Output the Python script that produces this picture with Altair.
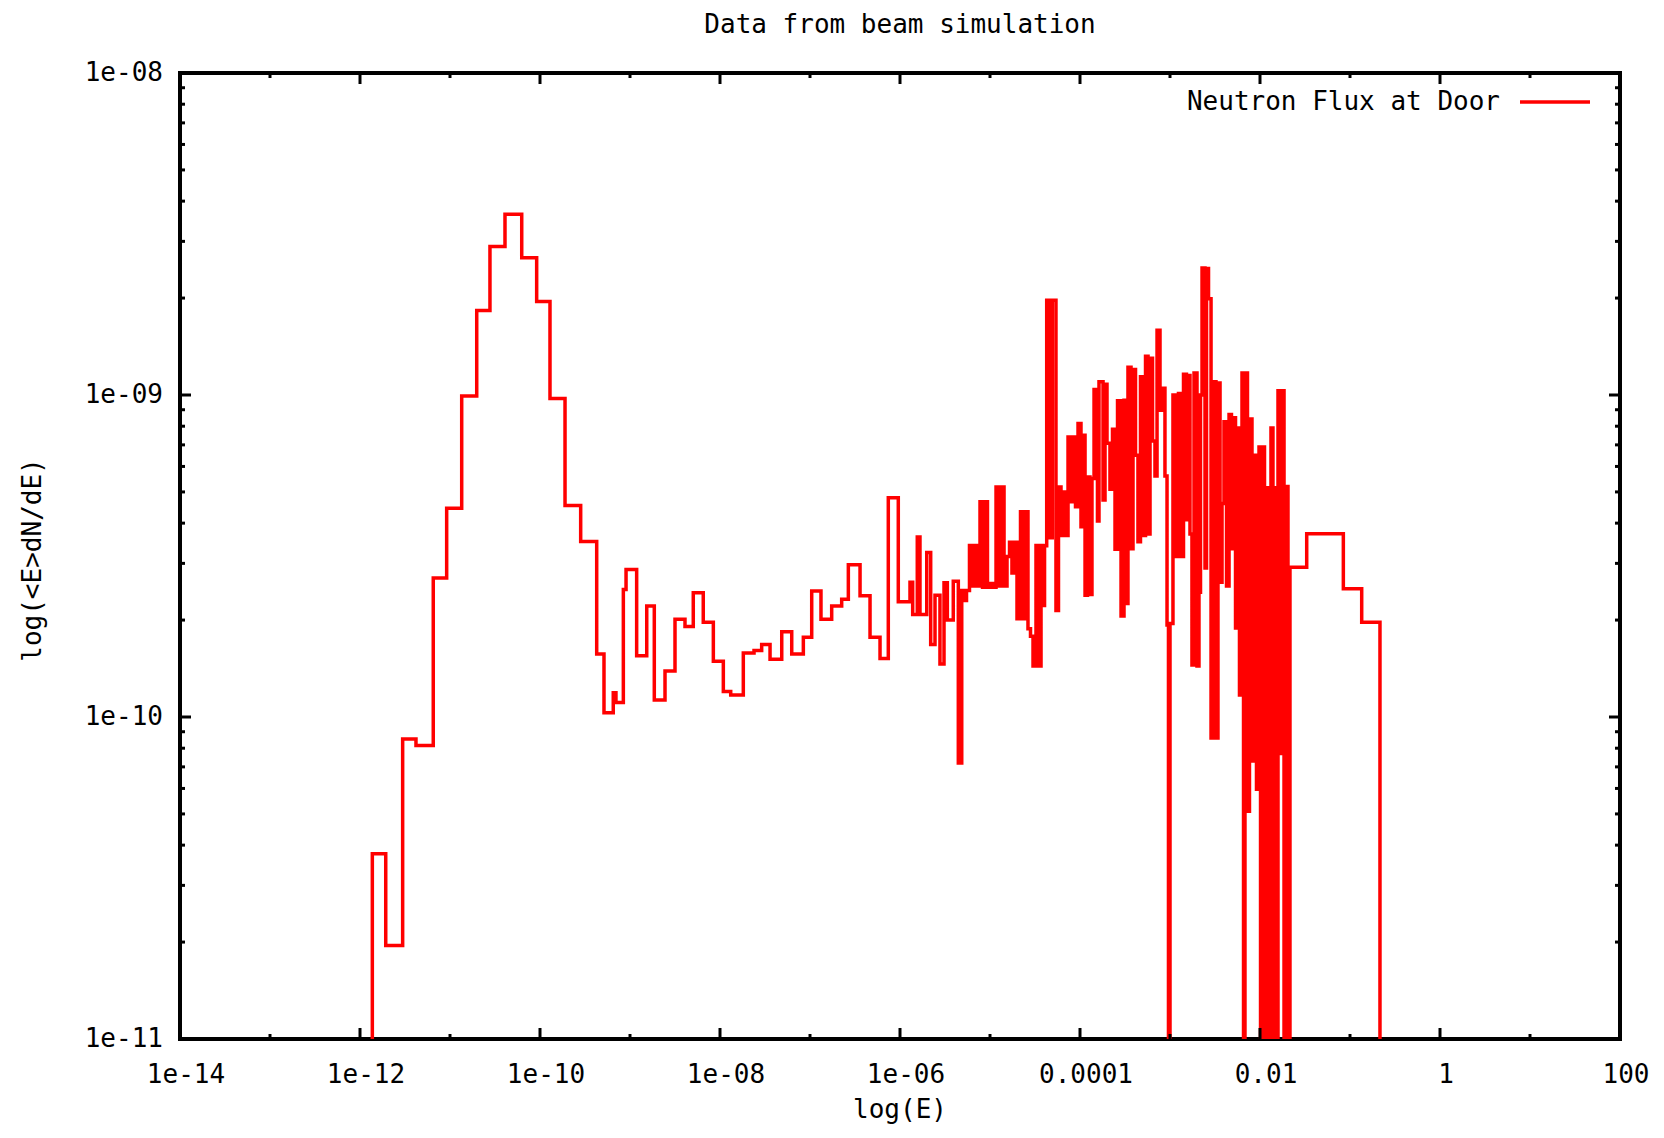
import altair as alt
import pandas as pd

FONT = "DejaVu Sans Mono"
FS = 26
RED = "#ff0000"

title_text = "Data from beam simulation"
x_title = "log(E)"
y_title = "log(<E>dN/dE)"
series_name = "Neutron Flux at Door"

# tick positions and labels
x_major = [1e-14, 1e-12, 1e-10, 1e-8, 1e-6, 1e-4, 1e-2, 1, 100]
x_major_labels = ["1e-14", "1e-12", "1e-10", "1e-08", "1e-06", "0.0001", "0.01", "1", "100"]
x_minor = [1e-13, 1e-11, 1e-9, 1e-7, 1e-5, 1e-3, 1e-1, 10]
y_major = [1e-11, 1e-10, 1e-9, 1e-8]
y_major_labels = ["1e-11", "1e-10", "1e-09", "1e-08"]
y_minor = [2e-11, 3e-11, 4e-11, 5e-11, 6e-11, 7e-11, 8e-11, 9e-11,
           2e-10, 3e-10, 4e-10, 5e-10, 6e-10, 7e-10, 8e-10, 9e-10,
           2e-9, 3e-9, 4e-9, 5e-9, 6e-9, 7e-9, 8e-9, 9e-9]

# histogram steps: left bin edge as log10(E), value of <E>dN/dE (0 = empty bin)
log_e_thermal = [-11.863, -11.863, -11.714, -11.526, -11.378, -11.186, -11.037, -10.870, -10.703, -10.556,
                 -10.389, -10.203, -10.037, -9.889, -9.722, -9.548, -9.370, -9.289, -9.186, -9.156]
flux_thermal = [0, 3.76e-11, 1.95e-11, 8.55e-11, 8.15e-11, 2.70e-10, 4.45e-10, 9.93e-10, 1.83e-9, 2.89e-9,
                3.64e-9, 2.67e-9, 1.95e-9, 9.75e-10, 4.54e-10, 3.51e-10, 1.57e-10, 1.03e-10, 1.19e-10, 1.11e-10]

log_e_epi = [-9.074, -9.044, -8.926, -8.814, -8.730, -8.611, -8.500, -8.389, -8.297, -8.186,
             -8.074, -7.963, -7.881, -7.741, -7.622, -7.537, -7.444, -7.314, -7.203, -7.074,
             -6.981, -6.878, -6.759, -6.648, -6.574, -6.444, -6.333, -6.222, -6.130, -6.019,
             -5.889, -5.859, -5.808, -5.778, -5.703, -5.659, -5.611, -5.556, -5.511, -5.474,
             -5.408, -5.352]
flux_epi = [2.49e-10, 2.87e-10, 1.55e-10, 2.21e-10, 1.13e-10, 1.39e-10, 2.01e-10, 1.91e-10, 2.43e-10, 1.97e-10,
            1.49e-10, 1.20e-10, 1.17e-10, 1.58e-10, 1.61e-10, 1.68e-10, 1.51e-10, 1.84e-10, 1.57e-10, 1.77e-10,
            2.46e-10, 2.01e-10, 2.21e-10, 2.32e-10, 2.97e-10, 2.38e-10, 1.77e-10, 1.52e-10, 4.80e-10, 2.28e-10,
            2.62e-10, 2.08e-10, 3.62e-10, 2.08e-10, 3.24e-10, 1.68e-10, 2.39e-10, 1.46e-10, 2.61e-10, 2.00e-10,
            2.64e-10, 7.2e-11]

log_e_res1 = [-5.314, -5.289, -5.261, -5.228, -5.200, -5.172, -5.144, -5.111, -5.083, -5.056,
              -5.028, -5.000, -4.967, -4.933, -4.906, -4.878, -4.844, -4.811, -4.783, -4.756,
              -4.728, -4.700, -4.661, -4.633, -4.606, -4.578, -4.550, -4.522, -4.489, -4.461,
              -4.433, -4.411, -4.394, -4.370, -4.333, -4.308, -4.267, -4.239, -4.211, -4.183,
              -4.156, -4.133, -4.100, -4.078, -4.050, -4.022, -3.989, -3.967, -3.944, -3.917,
              -3.889, -3.867]
flux_res1 = [2.47e-10, 2.30e-10, 2.47e-10, 3.41e-10, 2.55e-10, 3.41e-10, 2.55e-10, 4.66e-10, 2.53e-10, 4.66e-10,
             2.53e-10, 2.60e-10, 2.53e-10, 5.18e-10, 2.55e-10, 5.18e-10, 2.55e-10, 3.15e-10, 3.49e-10, 2.80e-10,
             3.49e-10, 2.02e-10, 4.34e-10, 2.02e-10, 4.34e-10, 1.88e-10, 1.78e-10, 1.44e-10, 3.41e-10, 1.44e-10,
             3.41e-10, 2.22e-10, 3.40e-10, 1.97e-9, 3.60e-10, 1.97e-9, 2.14e-10, 5.18e-10, 3.66e-10, 5.00e-10,
             3.66e-10, 7.41e-10, 4.66e-10, 7.41e-10, 4.50e-10, 8.15e-10, 3.90e-10, 7.50e-10, 2.39e-10, 5.56e-10,
             2.40e-10, 5.50e-10]

log_e_res2 = [-3.844, -3.806, -3.789, -3.744, -3.722, -3.700, -3.667, -3.639, -3.611, -3.583,
              -3.544, -3.511, -3.489, -3.467, -3.433, -3.411, -3.383, -3.356, -3.328, -3.300,
              -3.272, -3.244, -3.222, -3.194, -3.167, -3.144, -3.111, -3.078, -3.056, -3.033,
              -3.017, -3.000, -2.967, -2.933, -2.906, -2.878, -2.850, -2.817, -2.800, -2.778]
flux_res2 = [1.04e-9, 4.06e-10, 1.10e-9, 4.72e-10, 1.08e-9, 7.08e-10, 5.10e-10, 7.83e-10, 3.32e-10, 9.59e-10,
             2.06e-10, 9.64e-10, 2.25e-10, 1.22e-9, 3.33e-10, 1.20e-9, 6.50e-10, 3.50e-10, 1.14e-9, 3.66e-10,
             1.32e-9, 3.70e-10, 1.30e-9, 7.20e-10, 5.60e-10, 1.59e-9, 8.97e-10, 1.05e-9, 5.60e-10, 1.93e-10,
             0, 1.95e-10, 1.00e-9, 3.15e-10, 1.01e-9, 3.15e-10, 1.16e-9, 4.10e-10, 1.15e-9, 3.70e-10]

log_e_res3 = [-2.756, -2.733, -2.700, -2.678, -2.661, -2.644, -2.611, -2.594, -2.572, -2.544,
              -2.517, -2.489, -2.467, -2.444, -2.422, -2.400, -2.372, -2.344, -2.317, -2.294,
              -2.272, -2.256, -2.228, -2.200, -2.183, -2.167, -2.139, -2.117, -2.089, -2.067,
              -2.039, -2.011, -1.994, -1.967, -1.950, -1.928, -1.906, -1.878, -1.856, -1.833,
              -1.817, -1.800, -1.778, -1.756, -1.733, -1.711, -1.689]
flux_res3 = [1.45e-10, 1.17e-9, 1.44e-10, 2.44e-10, 1.00e-9, 2.48e-9, 2.90e-10, 2.47e-9, 1.99e-9, 8.60e-11,
             1.10e-9, 8.60e-11, 1.09e-9, 2.62e-10, 4.60e-10, 8.26e-10, 2.55e-10, 8.70e-10, 3.33e-10, 8.50e-10,
             1.89e-10, 7.90e-10, 1.17e-10, 1.17e-9, 0, 1.17e-9, 5.10e-11, 8.43e-10, 7.30e-11, 6.50e-10,
             5.96e-11, 6.90e-10, 0, 6.90e-10, 0, 5.15e-10, 0, 7.90e-10, 0, 5.15e-10,
             0, 1.03e-9, 7.70e-11, 1.03e-9, 0, 5.20e-10, 0]

log_e_fast = [-1.667, -1.481, -1.074, -0.870, -0.667]
flux_fast = [2.92e-10, 3.71e-10, 2.50e-10, 1.97e-10, 0]

FLOOR = 1e-13  # empty bins drawn off the bottom of the log axis

log_e = log_e_thermal + log_e_epi + log_e_res1 + log_e_res2 + log_e_res3 + log_e_fast
flux = flux_thermal + flux_epi + flux_res1 + flux_res2 + flux_res3 + flux_fast

df = pd.DataFrame({
    "E": [10 ** v for v in log_e],
    "flux": [f if f > 0 else FLOOR for f in flux],
})
df["i"] = range(len(df))

W, H = 1440, 966

xs = alt.Scale(type="log", domain=[1e-14, 100], nice=False)
ys = alt.Scale(type="log", domain=[1e-11, 1e-8], nice=False)

line = alt.Chart(df).mark_line(
    interpolate="step-after", color=RED, strokeWidth=3.5, clip=True
).encode(
    x=alt.X("E:Q", scale=xs, axis=None),
    y=alt.Y("flux:Q", scale=ys, axis=None),
    order="i:Q",
)


def xticks(vals, y0, y1):
    return alt.Chart(pd.DataFrame({"E": vals})).mark_rule(color="black", strokeWidth=3).encode(
        x=alt.X("E:Q", scale=xs, axis=None), y=alt.value(y0), y2=alt.value(y1))


def yticks(vals, x0, x1):
    return alt.Chart(pd.DataFrame({"flux": vals})).mark_rule(color="black", strokeWidth=3).encode(
        y=alt.Y("flux:Q", scale=ys, axis=None), x=alt.value(x0), x2=alt.value(x1))


MAJ, MIN = 11, 5
tick_layers = [
    xticks(x_major, H, H - MAJ), xticks(x_minor, H, H - MIN),
    xticks(x_major, 0, MAJ), xticks(x_minor, 0, MIN),
    yticks(y_major, 0, MAJ), yticks(y_minor, 0, MIN),
    yticks(y_major, W, W - MAJ), yticks(y_minor, W, W - MIN),
]

txt = dict(font=FONT, fontSize=FS, color="black", fontWeight="normal")

x_labels = alt.Chart(pd.DataFrame({"E": x_major, "label": x_major_labels})).mark_text(
    align="center", baseline="middle", dx=6, **txt
).encode(x=alt.X("E:Q", scale=xs, axis=None), y=alt.value(H + 36), text="label:N")

y_labels = alt.Chart(pd.DataFrame({"flux": y_major, "label": y_major_labels})).mark_text(
    align="right", baseline="middle", **txt
).encode(y=alt.Y("flux:Q", scale=ys, axis=None), x=alt.value(-17), text="label:N")

titles = pd.DataFrame({"t": [title_text], "xt": [x_title], "yt": [y_title], "s": [series_name]})

main_title = alt.Chart(titles).mark_text(align="center", baseline="middle", **txt).encode(
    text="t:N", x=alt.value(W / 2), y=alt.value(-48))
x_title_mark = alt.Chart(titles).mark_text(align="center", baseline="middle", **txt).encode(
    text="xt:N", x=alt.value(W / 2), y=alt.value(H + 71))
y_title_mark = alt.Chart(titles).mark_text(align="center", baseline="middle", angle=270, **txt).encode(
    text="yt:N", x=alt.value(-147), y=alt.value(487))

leg_text = alt.Chart(titles).mark_text(align="right", baseline="middle", **txt).encode(
    text="s:N", x=alt.value(1320), y=alt.value(29))
leg_line = alt.Chart(titles).mark_rule(color=RED, strokeWidth=3.5).encode(
    x=alt.value(1340), x2=alt.value(1410), y=alt.value(29))

chart = alt.layer(
    line, *tick_layers, x_labels, y_labels, main_title, x_title_mark, y_title_mark, leg_text, leg_line
).properties(
    width=W, height=H,
    autosize=alt.AutoSizeParams(type="none"),
    padding={"left": 172, "top": 65, "right": 34, "bottom": 86},
    background="white",
).configure_view(stroke="black", strokeWidth=4)

chart.save("out.html", embed_options={"renderer": "svg", "actions": False})
